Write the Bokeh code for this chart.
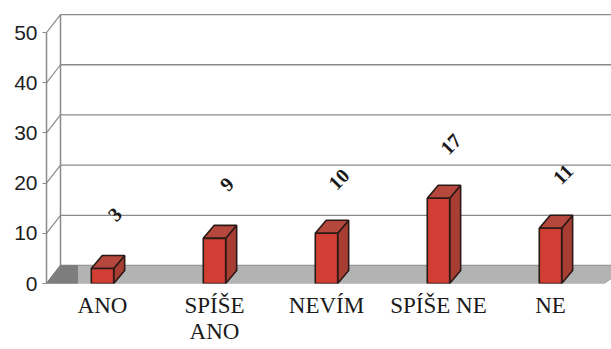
from bokeh.plotting import figure
from bokeh.models import Range1d, FixedTicker, LinearAxis
from bokeh.embed import file_html
from bokeh.resources import INLINE
from bokeh.core.properties import value

# ---- data ----
categories = ["ANO", "SPÍŠE\nANO", "NEVÍM", "SPÍŠE NE", "NE"]
counts = [3, 9, 10, 17, 11]
y_ticks = [0, 10, 20, 30, 40, 50]

# ---- geometry (style) ----
X0, X1 = -0.5, 4.545
Y0, Y1 = 0, 54.8
WDX, WDY = 0.125, 3.59     # wall depth offset
BDX, BDY = 0.098, 2.59     # bar depth offset
HALF = 0.1                 # half bar width
XEND = 4.7

p = figure(width=611, height=349, output_backend="svg", toolbar_location=None,
           x_range=Range1d(X0, X1), y_range=Range1d(Y0, Y1),
           min_border_left=46, min_border_right=0, min_border_top=8, min_border_bottom=66,
           x_axis_location=None, y_axis_location=None)
p.grid.visible = False
p.outline_line_color = None
p.background_fill_color = "white"
p.border_fill_color = "white"

wall_col = "#8a8a8a"
# back wall gridlines
for t in y_ticks:
    p.line([X0 + WDX, XEND], [t + WDY, t + WDY], line_color=wall_col, line_width=1.3)
    p.line([X0, X0 + WDX], [t, t + WDY], line_color=wall_col, line_width=1.2)
# back wall left edge
p.line([X0 + WDX, X0 + WDX], [WDY, y_ticks[-1] + WDY], line_color=wall_col, line_width=1.5)

# floor
p.patch([X0, X0 + WDX, XEND, 4.48], [0, WDY, WDY, 0], fill_color="#b3b3b3", line_color="#9a9a9a")
p.patch([X0, X0 + WDX, -0.223, -0.223], [0, WDY, WDY, 0], fill_color="#7d7d7d", line_color="#7d7d7d")

# bars
xs_front, ys_front, xs_side, ys_side, xs_top, ys_top = [], [], [], [], [], []
for i, v in enumerate(counts):
    l, r = i - HALF, i + HALF
    xs_front.append([l, r, r, l]); ys_front.append([0, 0, v, v])
    xs_side.append([r, r + BDX, r + BDX, r]); ys_side.append([0, BDY, v + BDY, v])
    xs_top.append([l, l + BDX, r + BDX, r]); ys_top.append([v, v + BDY, v + BDY, v])
edge = "#2a1a16"
p.patches(xs_side, ys_side, fill_color="#a83d33", line_color=edge, line_width=1.6)
p.patches(xs_top, ys_top, fill_color="#b5473c", line_color=edge, line_width=1.6)
p.patches(xs_front, ys_front, fill_color="#d03e34", line_color=edge, line_width=1.6)

# data labels
p.text(x=[i + 0.11 for i in range(len(counts))], y=[v + 10.8 for v in counts],
       text=[str(v) for v in counts], angle=0.8, text_align="center", text_baseline="middle",
       text_font=value("Liberation Serif"), text_font_style="bold", text_font_size="20px",
       text_color="#1a1a1a")

# y axis (front)
ya = LinearAxis(ticker=FixedTicker(ticks=y_ticks), bounds=(0, 50))
ya.axis_line_color = wall_col
ya.axis_line_width = 1.5
ya.major_tick_line_color = wall_col
ya.major_tick_out = 4
ya.major_tick_in = 0
ya.minor_tick_line_color = None
ya.major_label_standoff = 5
ya.major_label_text_font = "Liberation Sans"
ya.major_label_text_font_size = "21px"
ya.major_label_text_color = "#1e1e1e"
p.add_layout(ya, "left")

# x axis
xa = LinearAxis(ticker=FixedTicker(ticks=list(range(len(categories)))))
xa.major_label_overrides = {i: c for i, c in enumerate(categories)}
xa.axis_line_color = None
xa.major_tick_line_color = None
xa.major_tick_out = 0
xa.major_tick_in = 0
xa.minor_tick_line_color = None
xa.major_label_standoff = 9
xa.major_label_text_font = "Liberation Serif"
xa.major_label_text_font_size = "23px"
xa.major_label_text_color = "#1a1a1a"
xa.major_label_text_line_height = 1.05
p.add_layout(xa, "below")

open("out.html", "w").write(file_html(p, INLINE))
